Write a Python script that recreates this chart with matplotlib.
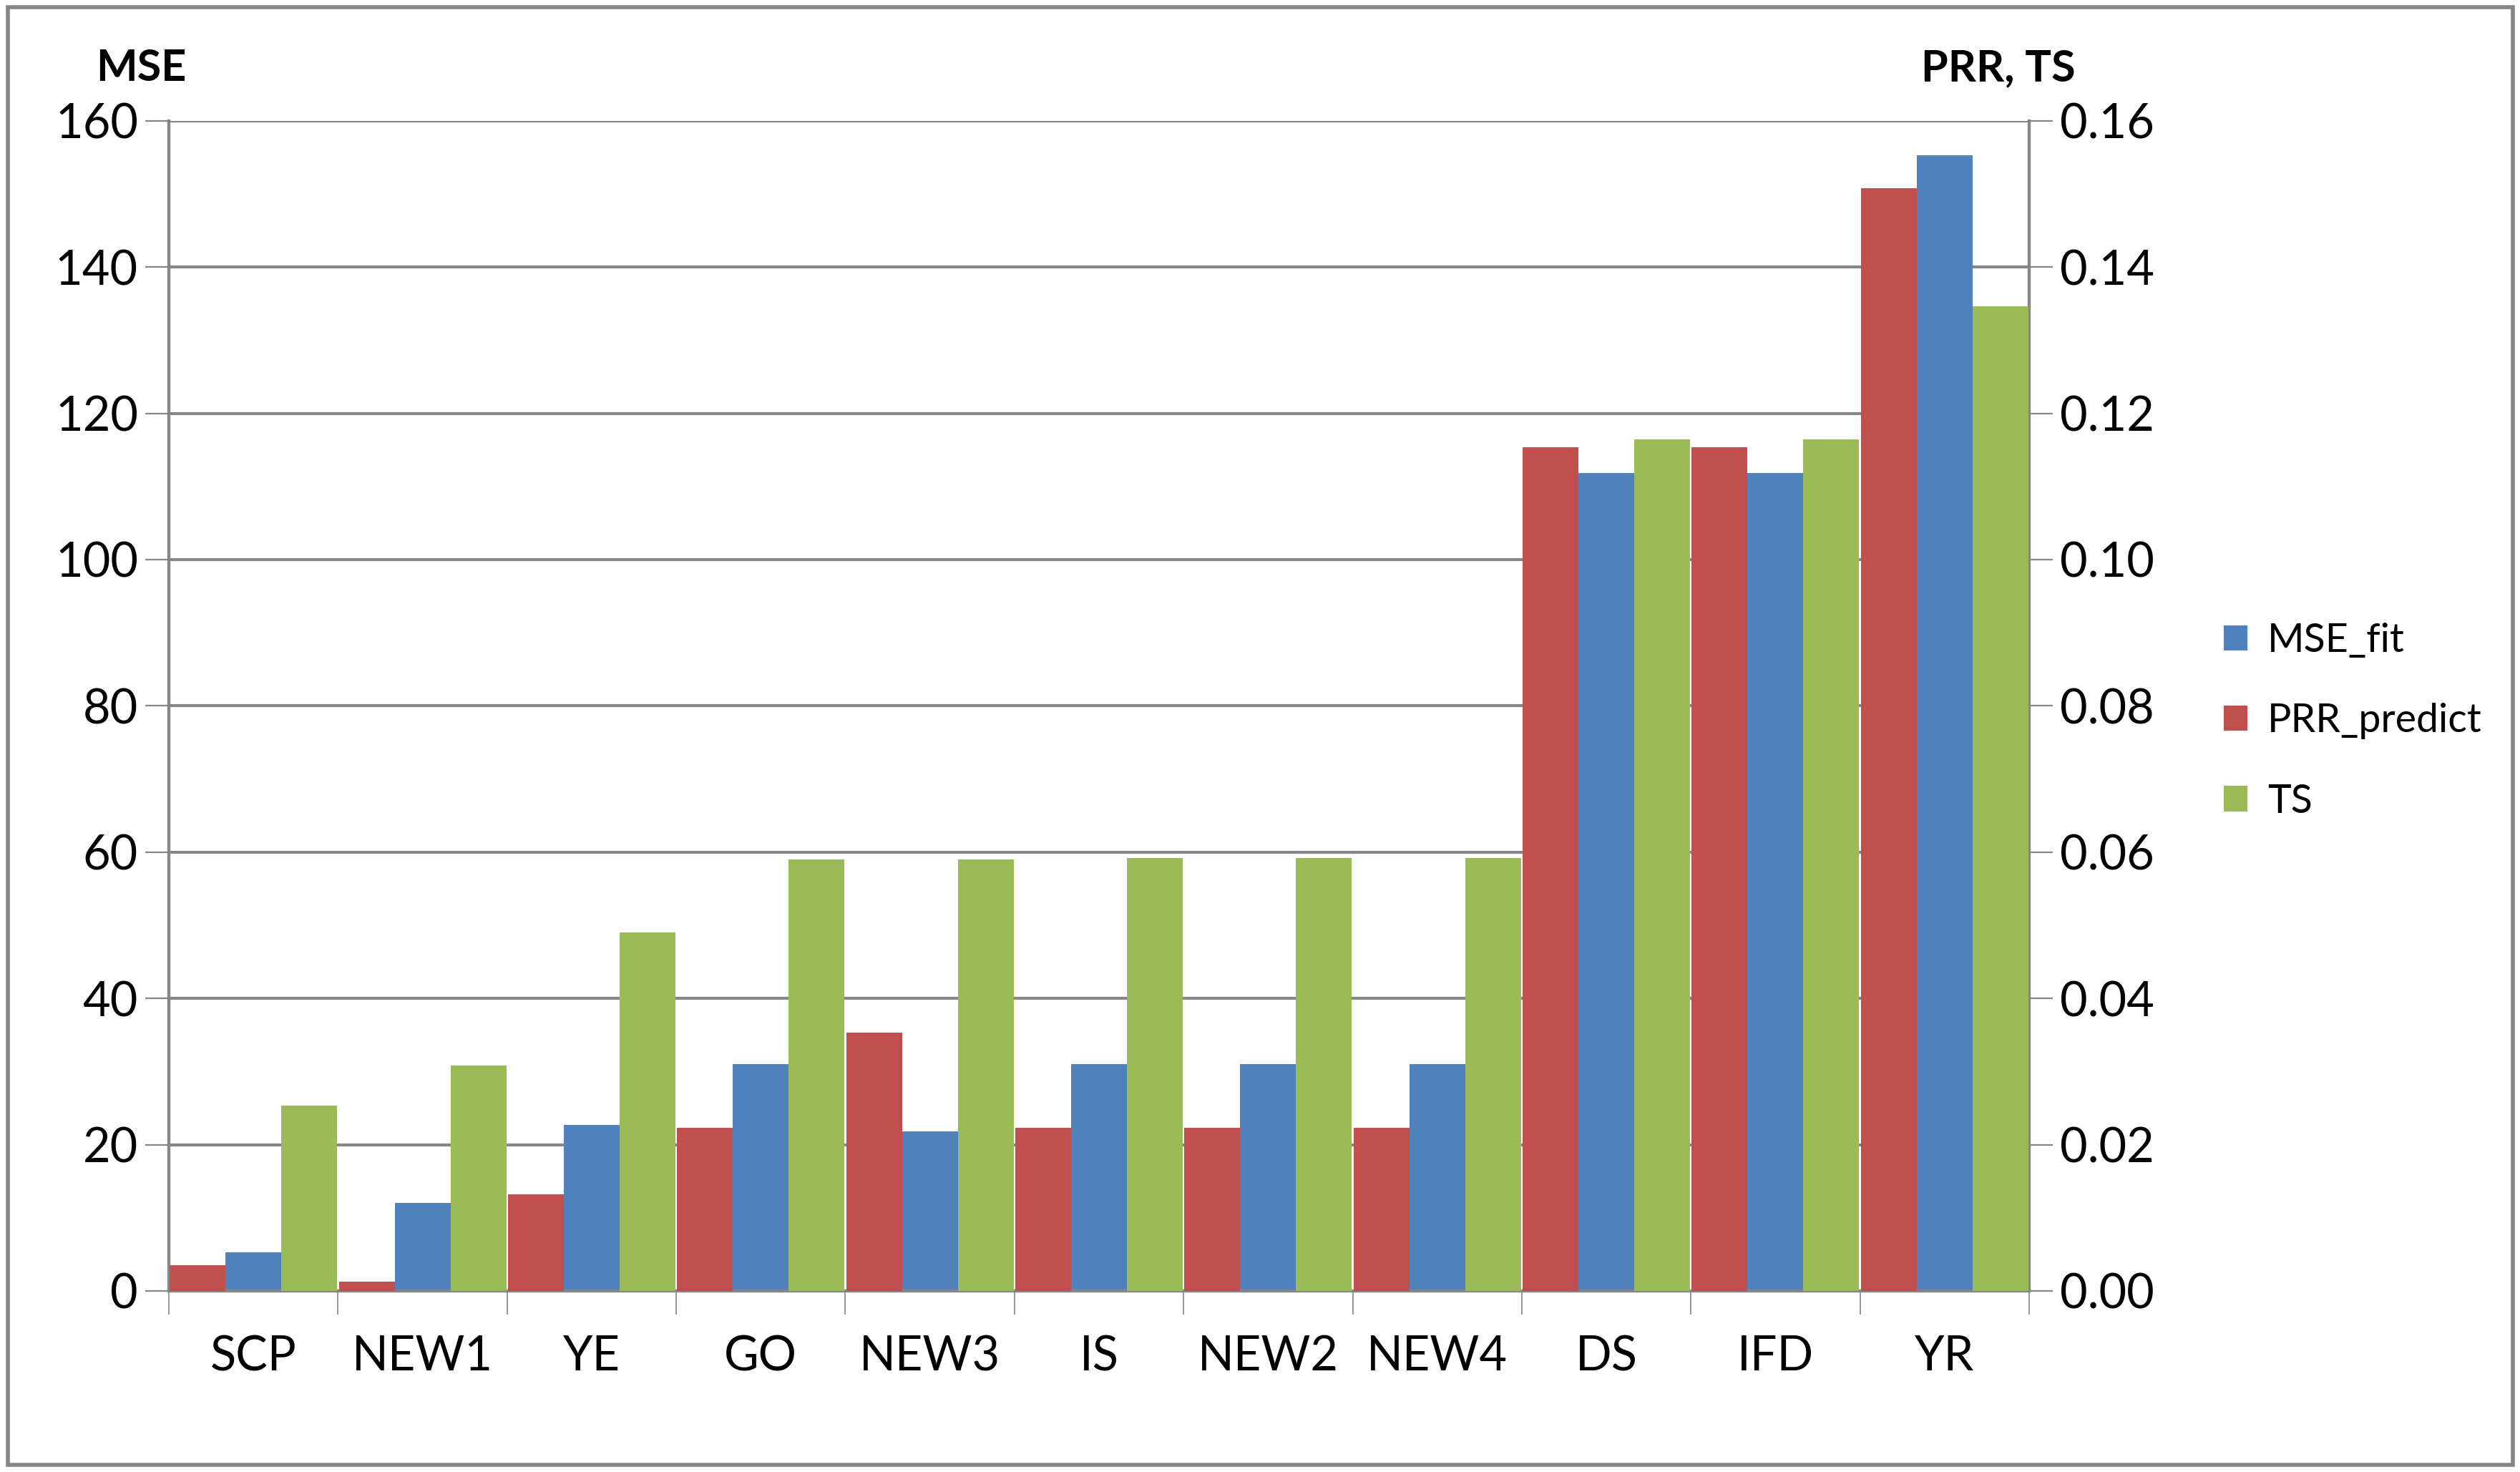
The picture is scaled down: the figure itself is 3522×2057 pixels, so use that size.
import numpy as np
import matplotlib.pyplot as plt

plt.rcParams['font.family'] = ['Lato', 'DejaVu Sans']

categories = ["SCP", "NEW1", "YE", "GO", "NEW3", "IS", "NEW2", "NEW4", "DS", "IFD", "YR"]
mse_fit = [5.3, 12.0, 22.7, 31.0, 21.8, 31.0, 31.0, 31.0, 111.8, 111.8, 155.3]
prr_predict = [0.0035, 0.0013, 0.0132, 0.0223, 0.0353, 0.0223, 0.0223, 0.0223, 0.1154, 0.1154, 0.1508]
ts = [0.0253, 0.0308, 0.0490, 0.0590, 0.0590, 0.0592, 0.0592, 0.0592, 0.1164, 0.1164, 0.1346]

c_blue = "#4F81BD"
c_red = "#C0504D"
c_green = "#9BBB59"

fig = plt.figure(figsize=(17.615, 10.285), dpi=200)
ax = fig.add_axes([0.067, 0.123, 0.738, 0.795])
ax2 = ax.twinx()

x = np.arange(len(categories))
w = 0.33
ax2.bar(x - w, prr_predict, w, color=c_red, label="PRR_predict", zorder=3)
ax.bar(x, mse_fit, w, color=c_blue, label="MSE_fit", zorder=3)
ax2.bar(x + w, ts, w, color=c_green, label="TS", zorder=3)

ax.set_ylim(0, 160)
ax2.set_ylim(0, 0.16)
ax.set_yticks(np.arange(0, 161, 20))
ax2.set_yticks(np.arange(0, 0.161, 0.02))
ax2.set_yticklabels([f"{v:.2f}" for v in np.arange(0, 0.161, 0.02)])
ax.set_xlim(-0.5, len(categories) - 0.5)
ax.set_xticks(x)
ax.set_xticklabels(categories)
ax.set_xticks(np.arange(-0.5, len(categories), 1), minor=True)
ax.tick_params(axis='x', which='major', length=0, pad=22, labelsize=24)
ax.tick_params(axis='x', which='minor', length=12, color="#868686")
ax.tick_params(axis='y', labelsize=24, length=12, color="#868686")
ax2.tick_params(axis='y', labelsize=24, length=12, color="#868686")

ax.yaxis.grid(True, color="#868686", linewidth=1.5, zorder=0)
ax.set_axisbelow(True)
ax2.set_zorder(1)
ax2.patch.set_visible(False)
for a in (ax, ax2):
    for s in a.spines.values():
        s.set_visible(False)
    a.spines['left'].set_visible(True)
    a.spines['right'].set_visible(True)
    a.spines['bottom'].set_visible(True)
    for s in ('left', 'right', 'bottom'):
        a.spines[s].set_color("#868686")
        a.spines[s].set_linewidth(1.5)

fig.text(0.038, 0.945, "MSE", fontsize=22, fontweight='bold', ha='left')
fig.text(0.762, 0.945, "PRR, TS", fontsize=22, fontweight='bold', ha='left')

h1, l1 = ax.get_legend_handles_labels()
h2, l2 = ax2.get_legend_handles_labels()
fig.legend([h1[0], h2[0], h2[1]], [l1[0], l2[0], l2[1]], loc='center left',
           bbox_to_anchor=(0.868, 0.51), frameon=False, fontsize=20,
           handlelength=0.6, handleheight=0.6, labelspacing=1.1, handletextpad=0.5)

fig.add_artist(plt.Rectangle((0.003, 0.005), 0.994, 0.99, transform=fig.transFigure,
                             fill=False, edgecolor="#868686", linewidth=2))

fig.savefig("out.png")
